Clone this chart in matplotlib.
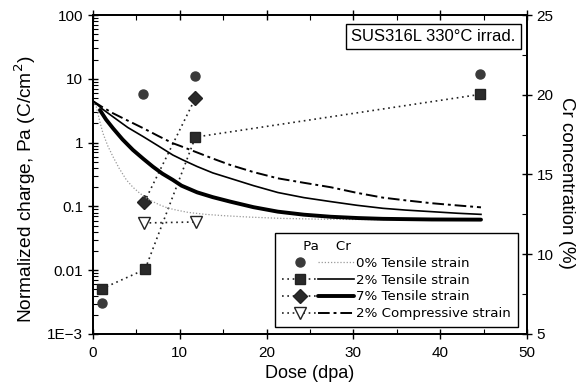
import numpy as np
import matplotlib
matplotlib.use("Agg")
from matplotlib import pyplot as plt
from matplotlib.legend_handler import HandlerTuple
from matplotlib.ticker import LogLocator, NullFormatter, FixedLocator

plt.rcParams['font.family'] = ['Liberation Sans', 'DejaVu Sans']

# Pa data (normalized charge, left log axis)
pa0_dose = [1, 5.8, 11.8, 44.6]
pa0_val = [0.0031, 5.7, 11.1, 11.9]
pa2_dose = [1, 6, 11.8, 44.6]
pa2_val = [0.0051, 0.0103, 1.22, 5.7]
pa7_dose = [5.9, 11.8]
pa7_val = [0.116, 5.0]
pac_dose = [5.9, 11.9]
pac_val = [0.055, 0.057]

# Cr concentration curves (right axis)
cr0_dose = [0, 0.38, 0.75, 1.15, 1.7, 2.3, 3.0, 3.85, 4.6, 5.4, 6.5, 7.7, 8.6, 9.6, 11, 13, 15, 18, 21.6, 26, 30, 35, 40, 44.7]
cr0_val = [19.6, 19.25, 18.4, 17.58, 16.8, 16.12, 15.4, 14.66, 14.2, 13.82, 13.4, 13.09, 12.9, 12.77, 12.62,
           12.5, 12.42, 12.33, 12.25, 12.2, 12.18, 12.17, 12.17, 12.17]
cr2_dose = [0, 1.1, 2.3, 4, 5.8, 7.5, 9.2, 10.4, 12, 13.8, 15.8, 18.5, 21.3, 24.3, 27.4, 30.4, 33.4, 36, 39, 42, 44.7]
cr2_val = [19.6, 19.1, 18.62, 17.95, 17.37, 16.8, 16.22, 15.9, 15.5, 15.1, 14.76, 14.3, 13.87, 13.55, 13.3,
           13.07, 12.88, 12.77, 12.67, 12.57, 12.5]
cr7_dose = [0.8, 1.5, 2.3, 3.4, 4.6, 5.8, 6.9, 8, 9.2, 10.2, 12, 13.8, 15.8, 18.5, 21.3, 24.3, 27.4, 30.5, 33.4, 39, 44.7]
cr7_val = [19.04, 18.45, 17.9, 17.2, 16.54, 15.98, 15.49, 15.05, 14.66, 14.3, 13.88, 13.58, 13.3, 12.95, 12.67,
           12.48, 12.35, 12.27, 12.22, 12.18, 12.17]
crc_dose = [0, 1.1, 2.3, 4, 5.8, 7.5, 9.2, 10.05, 12, 13.8, 15.8, 18.5, 21.3, 24.3, 27.4, 30.4, 33.4, 36, 39, 42, 44.7]
crc_val = [19.6, 19.22, 18.84, 18.38, 17.9, 17.42, 16.96, 16.79, 16.38, 16.0, 15.6, 15.15, 14.76, 14.48, 14.2,
           13.85, 13.55, 13.38, 13.2, 13.06, 12.94]

labels = ['0% Tensile strain', '2% Tensile strain', '7% Tensile strain', '2% Compressive strain']

fig = plt.figure(figsize=(5.86, 3.92), dpi=100)
ax = fig.add_axes([0.1587, 0.148, 0.7406, 0.8137])
ax2 = ax.twinx()

dot = (0, (1, 2.2))
p0, = ax.plot(pa0_dose, pa0_val, ls='none', marker='o', ms=6.5, color='#3a3a3a')
p2, = ax.plot(pa2_dose, pa2_val, ls=dot, lw=1.2, marker='s', ms=7, color='#222222', mfc='#2a2a2a')
p7, = ax.plot(pa7_dose, pa7_val, ls=dot, lw=1.2, marker='D', ms=7.5, color='#222222', mfc='#2a2a2a')
pc, = ax.plot(pac_dose, pac_val, ls=dot, lw=1.2, marker='v', ms=9, color='#222222', mfc='white')

c0, = ax2.plot(cr0_dose, cr0_val, ls=(0, (1, 1.5)), lw=0.9, color='#999999')
c2, = ax2.plot(cr2_dose, cr2_val, ls='-', lw=1.2, color='black')
c7, = ax2.plot(cr7_dose, cr7_val, ls='-', lw=2.8, color='black', solid_capstyle='round')
cc, = ax2.plot(crc_dose, crc_val, ls=(0, (6, 2, 1.5, 2)), lw=1.4, color='black')

ax.set_yscale('log')
ax.set_xlim(0, 50)
ax.set_ylim(1e-3, 100)
ax.set_yticks([1e-3, 0.01, 0.1, 1, 10, 100])
ax.set_yticklabels(['1E\u22123', '0.01', '0.1', '1', '10', '100'])
ax.yaxis.set_minor_locator(LogLocator(base=10, subs=np.arange(2, 10), numticks=20))
ax.yaxis.set_minor_formatter(NullFormatter())
ax.set_xticks([0, 10, 20, 30, 40, 50])
ax.xaxis.set_minor_locator(FixedLocator([5, 15, 25, 35, 45]))
ax.tick_params(axis='both', which='major', direction='inout', length=7, width=1, labelsize=11)
ax.tick_params(axis='both', which='minor', direction='in', length=3.5, width=0.8)
ax.tick_params(axis='x', which='both', top=True)
ax.tick_params(axis='x', which='major', pad=5)

ax2.set_ylim(5, 25)
ax2.set_yticks([5, 10, 15, 20, 25])
ax2.yaxis.set_minor_locator(FixedLocator([7.5, 12.5, 17.5, 22.5]))
ax2.tick_params(axis='y', which='major', direction='inout', length=7, width=1, labelsize=11)
ax2.tick_params(axis='y', which='minor', direction='in', length=3.5, width=0.8)

for a in (ax, ax2):
    for s in a.spines.values():
        s.set_linewidth(1.3)

ax.set_xlabel('Dose (dpa)', fontsize=13, labelpad=4)
ax.set_ylabel('Normalized charge, Pa (C/cm$^2$)', fontsize=13.8, va='center')
ax.yaxis.set_label_coords(-0.157, 0.453)
ax2.set_ylabel('Cr concentration (%)', fontsize=13.5, rotation=270, va='center')
ax2.yaxis.set_label_coords(1.0915, 0.472)

ax2.text(0.974, 0.934, 'SUS316L 330\u00b0C irrad.', transform=ax2.transAxes,
         ha='right', va='center', fontsize=12,
         bbox=dict(boxstyle='square,pad=0.3', fc='white', ec='black', lw=1))

leg = ax2.legend([(p0, c0), (p2, c2), (p7, c7), (pc, cc)], labels,
                 handler_map={tuple: HandlerTuple(ndivide=None, pad=0.0)},
                 loc='lower right', bbox_to_anchor=(0.979, 0.022), borderaxespad=0,
                 title='     Pa    Cr', alignment='left',
                 prop={'family': 'DejaVu Sans', 'size': 9.6},
                 title_fontproperties={'family': 'DejaVu Sans', 'size': 9.6},
                 handlelength=5.4, handletextpad=0.2,
                 labelspacing=0.29, borderpad=0.5, fancybox=False,
                 edgecolor='black', framealpha=1)
leg.get_frame().set_linewidth(1)

fig.savefig('out.png', dpi=100)
